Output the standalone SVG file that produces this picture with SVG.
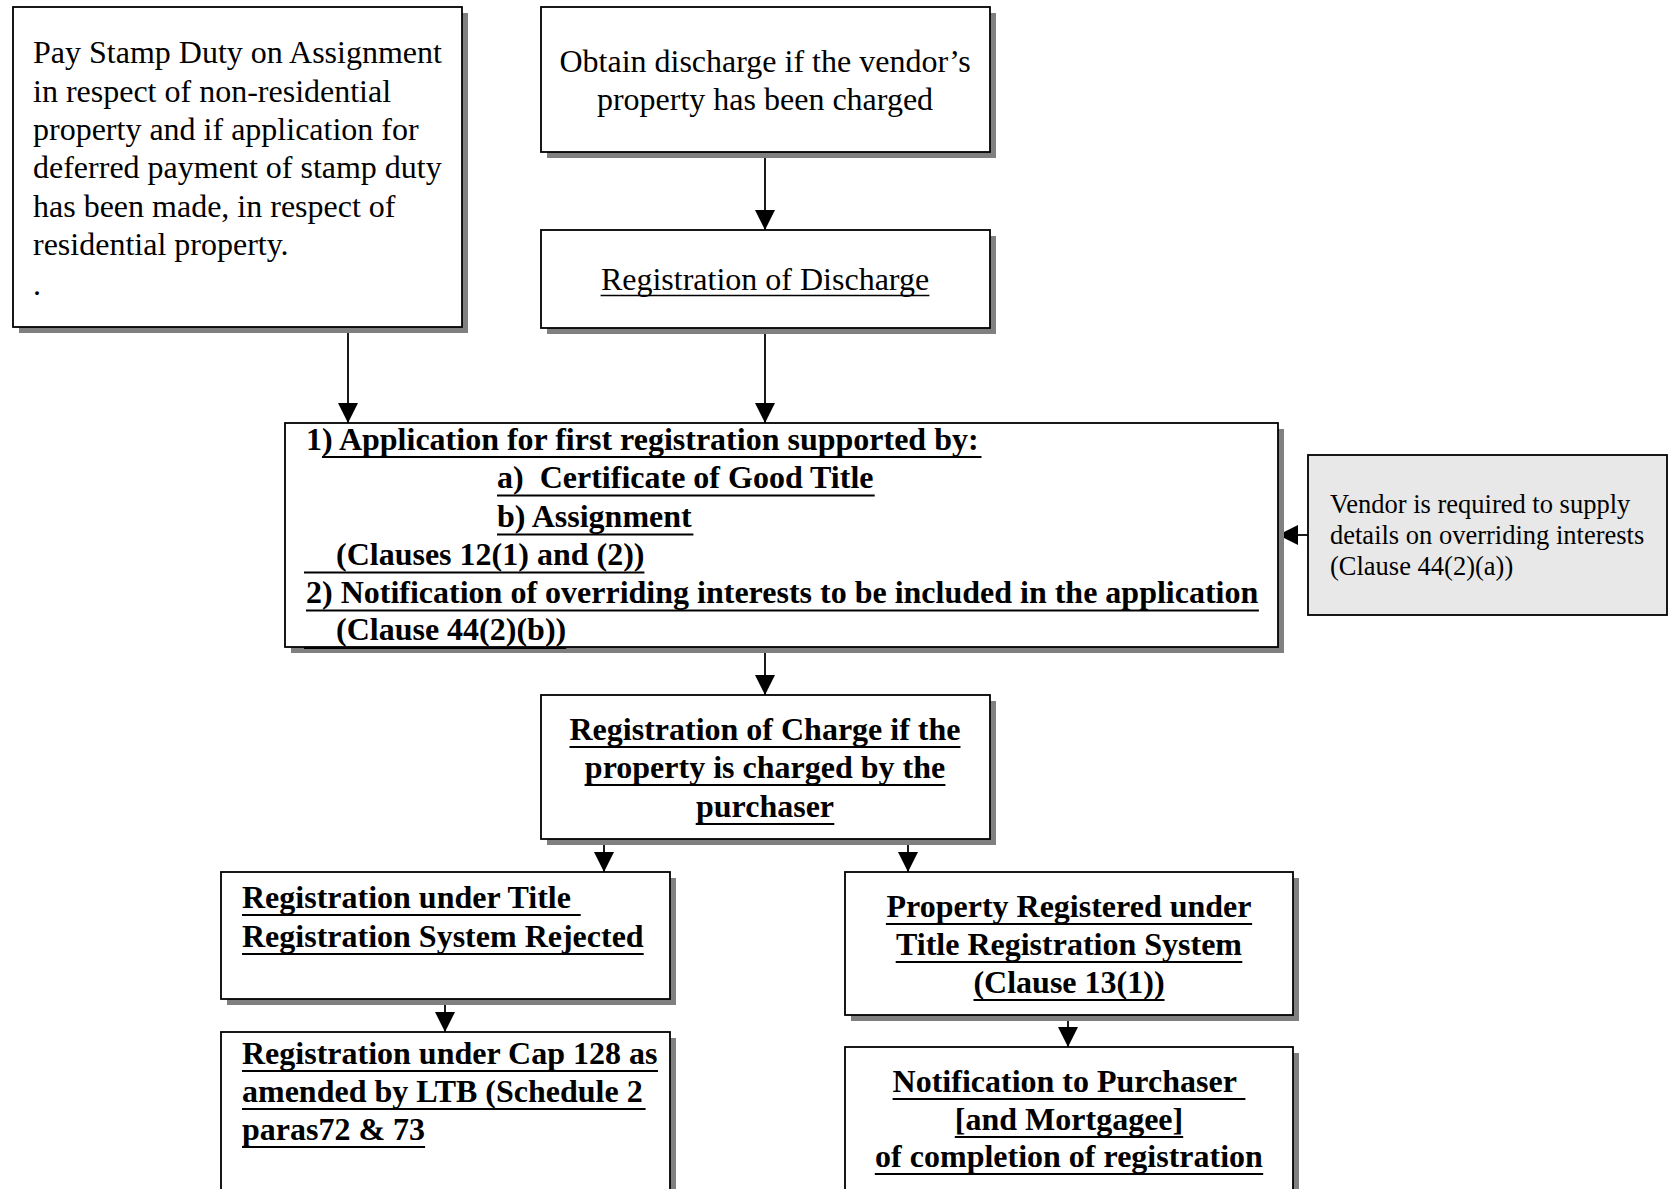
<svg xmlns="http://www.w3.org/2000/svg" width="1668" height="1189" viewBox="0 0 1668 1189">
  <style>
    .box { fill: #ffffff; stroke: #000000; stroke-width: 1.8; }
    .note { fill: #e8e8e8; stroke: #000000; stroke-width: 1.8; }
    .shadow { fill: #808080; stroke: none; }
    .txt { font-family: "Liberation Serif", "Times New Roman", serif; font-size: 32px; fill: #000000; }
    .small { font-family: "Liberation Serif", "Times New Roman", serif; font-size: 26.5px; fill: #000000; }
    .b { font-weight: bold; }
    .mid { text-anchor: middle; }
    .ul { stroke: #000000; stroke-width: 2; }
    .ul-thin { stroke: #000000; stroke-width: 1.6; }
    .link { stroke: #000000; stroke-width: 1.8; fill: none; marker-end: url(#arrow); }
  </style>
  <defs>
    <marker id="arrow" markerUnits="userSpaceOnUse" markerWidth="20" markerHeight="20" viewBox="0 0 20 20" refX="20" refY="10" orient="auto">
      <path d="M0,0 L20,10 L0,20 Z" fill="#000000"/>
    </marker>
  </defs>
  <rect width="1668" height="1189" fill="#ffffff"/>

  <!-- connectors -->
  <g id="connectors">
    <line class="link" x1="348" y1="327" x2="348" y2="423"/>
    <line class="link" x1="765" y1="152" x2="765" y2="230"/>
    <line class="link" x1="765" y1="328" x2="765" y2="423"/>
    <line class="link" x1="1308" y1="535" x2="1278" y2="535"/>
    <line class="link" x1="765" y1="647" x2="765" y2="695"/>
    <line class="link" x1="604" y1="839" x2="604" y2="872"/>
    <line class="link" x1="908" y1="839" x2="908" y2="872"/>
    <line class="link" x1="445" y1="999" x2="445" y2="1032"/>
    <line class="link" x1="1068" y1="1015" x2="1068" y2="1047"/>
  </g>

  <!-- stamp duty step -->
  <g id="stamp-duty">
    <rect class="shadow" x="19" y="13" width="449" height="320"/>
    <rect class="box" x="13" y="7" width="449" height="320"/>
    <text class="txt" x="33" y="63">Pay Stamp Duty on Assignment</text>
    <text class="txt" x="33" y="102">in respect of non-residential</text>
    <text class="txt" x="33" y="140">property and if application for</text>
    <text class="txt" x="33" y="178">deferred payment of stamp duty</text>
    <text class="txt" x="33" y="217">has been made, in respect of</text>
    <text class="txt" x="33" y="255">residential property.</text>
    <text class="txt" x="33" y="295">.</text>
  </g>

  <!-- discharge -->
  <g id="obtain-discharge">
    <rect class="shadow" x="547" y="13" width="449" height="145"/>
    <rect class="box" x="541" y="7" width="449" height="145"/>
    <text class="txt mid" x="765" y="72">Obtain discharge if the vendor’s</text>
    <text class="txt mid" x="765" y="110">property has been charged</text>
  </g>

  <g id="registration-discharge">
    <rect class="shadow" x="547" y="236" width="449" height="98"/>
    <rect class="box" x="541" y="230" width="449" height="98"/>
    <text class="txt mid" x="765" y="290">Registration of Discharge</text>
    <line class="ul-thin" x1="600.6" y1="295.5" x2="929.4" y2="295.5"/>
  </g>

  <!-- first registration application -->
  <g id="application">
    <rect class="shadow" x="291" y="429" width="993" height="224"/>
    <rect class="box" x="285" y="423" width="993" height="224"/>
    <text class="txt b" x="306" y="450">1) Application for first registration supported by:</text>
    <text class="txt b" x="497" y="488" xml:space="preserve">a)  Certificate of Good Title</text>
    <text class="txt b" x="497" y="527">b) Assignment</text>
    <text class="txt b" x="336" y="565">(Clauses 12(1) and (2))</text>
    <text class="txt b" x="306" y="603">2) Notification of overriding interests to be included in the application</text>
    <text class="txt b" x="336" y="640">(Clause 44(2)(b))</text>
    <line class="ul" x1="322" y1="457" x2="981.5" y2="457"/>
    <line class="ul" x1="497" y1="495.5" x2="874.7" y2="495.5"/>
    <line class="ul" x1="497" y1="534.5" x2="693.4" y2="534.5"/>
    <line class="ul" x1="304" y1="572.5" x2="644.4" y2="572.5"/>
    <line class="ul" x1="306" y1="610.5" x2="1258.9" y2="610.5"/>
    <line class="ul" x1="304" y1="648" x2="566.2" y2="648"/>
  </g>

  <!-- vendor note -->
  <g id="vendor-note">
    <rect class="note" x="1308" y="455" width="359" height="160"/>
    <text class="small" x="1330" y="513">Vendor is required to supply</text>
    <text class="small" x="1330" y="544">details on overriding interests</text>
    <text class="small" x="1330" y="575">(Clause 44(2)(a))</text>
  </g>

  <!-- charge registration -->
  <g id="registration-charge">
    <rect class="shadow" x="547" y="701" width="449" height="144"/>
    <rect class="box" x="541" y="695" width="449" height="144"/>
    <text class="txt b mid" x="765" y="740">Registration of Charge if the</text>
    <text class="txt b mid" x="765" y="778">property is charged by the</text>
    <text class="txt b mid" x="765" y="817">purchaser</text>
    <line class="ul" x1="569.5" y1="747" x2="960.5" y2="747"/>
    <line class="ul" x1="584.6" y1="785" x2="945.4" y2="785"/>
    <line class="ul" x1="695.7" y1="824" x2="834.3" y2="824"/>
  </g>

  <!-- rejected branch -->
  <g id="rejected">
    <rect class="shadow" x="227" y="878" width="449" height="127"/>
    <rect class="box" x="221" y="872" width="449" height="127"/>
    <text class="txt b" x="242" y="908">Registration under Title</text>
    <text class="txt b" x="242" y="947">Registration System Rejected</text>
    <line class="ul" x1="242" y1="915" x2="580.7" y2="915"/>
    <line class="ul" x1="242" y1="954" x2="643.7" y2="954"/>
  </g>

  <g id="cap-128">
    <rect class="shadow" x="227" y="1038" width="449" height="200"/>
    <rect class="box" x="221" y="1032" width="449" height="200"/>
    <text class="txt b" x="242" y="1064">Registration under Cap 128 as</text>
    <text class="txt b" x="242" y="1102">amended by LTB (Schedule 2</text>
    <text class="txt b" x="242" y="1140">paras72 &amp; 73</text>
    <line class="ul" x1="242" y1="1071" x2="658" y2="1071"/>
    <line class="ul" x1="242" y1="1109" x2="645.6" y2="1109"/>
    <line class="ul" x1="242" y1="1147" x2="425.1" y2="1147"/>
  </g>

  <!-- registered branch -->
  <g id="registered">
    <rect class="shadow" x="851" y="878" width="448" height="143"/>
    <rect class="box" x="845" y="872" width="448" height="143"/>
    <text class="txt b mid" x="1069" y="917">Property Registered under</text>
    <text class="txt b mid" x="1069" y="955">Title Registration System</text>
    <text class="txt b mid" x="1069" y="993">(Clause 13(1))</text>
    <line class="ul" x1="885.9" y1="924" x2="1252.1" y2="924"/>
    <line class="ul" x1="895.7" y1="962" x2="1242.3" y2="962"/>
    <line class="ul" x1="973.5" y1="1000" x2="1164.5" y2="1000"/>
  </g>

  <g id="notification">
    <rect class="shadow" x="851" y="1053" width="448" height="200"/>
    <rect class="box" x="845" y="1047" width="448" height="200"/>
    <text class="txt b" x="892.6" y="1092">Notification to Purchaser</text>
    <text class="txt b mid" x="1069" y="1130">[and Mortgagee]</text>
    <text class="txt b mid" x="1069" y="1167">of completion of registration</text>
    <line class="ul" x1="892.6" y1="1099" x2="1245.4" y2="1099"/>
    <line class="ul" x1="954.8" y1="1137" x2="1183.2" y2="1137"/>
    <line class="ul" x1="874.8" y1="1174" x2="1263.2" y2="1174"/>
  </g>
</svg>
